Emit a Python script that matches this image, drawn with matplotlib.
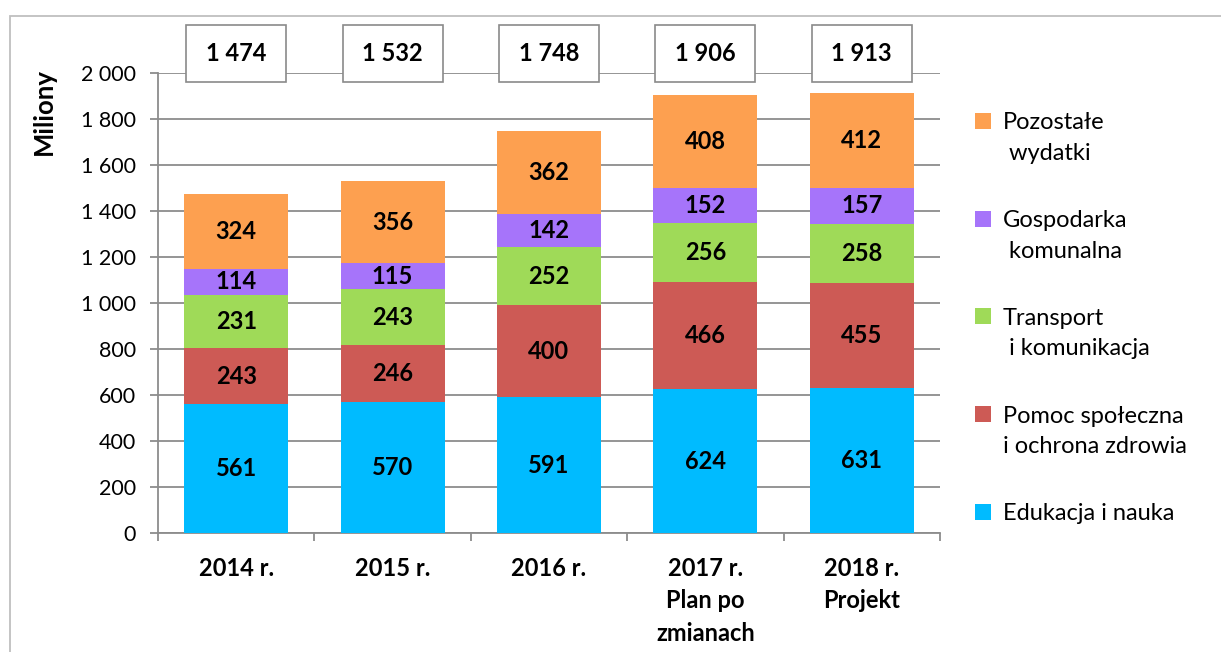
import matplotlib
matplotlib.use('Agg')
import matplotlib.pyplot as plt
from matplotlib.patches import Rectangle
import numpy as np

# ---- data ----
categories = ['2014 r.', '2015 r.', '2016 r.', '2017 r.\nPlan po\nzmianach', '2018 r.\nProjekt']
edukacja = [561, 570, 591, 624, 631]
pomoc = [243, 246, 400, 466, 455]
transport = [231, 243, 252, 256, 258]
gospodarka = [114, 115, 142, 152, 157]
pozostale = [324, 356, 362, 408, 412]
totals = [1474, 1532, 1748, 1906, 1913]

series = [edukacja, pomoc, transport, gospodarka, pozostale]
series_names = ['Edukacja i nauka', 'Pomoc społeczna\ni ochrona zdrowia',
                'Transport\n i komunikacja', 'Gospodarka\n komunalna', 'Pozostałe\n wydatki']
colors = ['#00BBFF', '#CD5A55', '#9FDA58', '#A674FA', '#FDA050']
yticks = [0, 200, 400, 600, 800, 1000, 1200, 1400, 1600, 1800, 2000]
ylabel = 'Miliony'

FONT = ['Lato', 'DejaVu Sans']
plt.rcParams['font.family'] = FONT


def fmt(v):
    return f"{v:,}".replace(',', ' ')


W, H = 1221, 652
fig = plt.figure(figsize=(W / 100, H / 100), dpi=100)
ax = fig.add_axes([158 / W, 1 - 533 / H, (940 - 158) / W, (533 - 73) / H])

# outer frame
fig.patches.append(Rectangle((10 / W, -0.1), 1.2, 1.1 - 16 / H, transform=fig.transFigure,
                             fill=False, edgecolor='#BFBFBF', lw=1.3, zorder=0))

x = np.arange(len(categories))
bottom = np.zeros(len(categories))
for vals, col in zip(series, colors):
    bars = ax.bar(x, vals, width=0.665, bottom=bottom, color=col, zorder=3)
    ax.bar_label(bars, labels=[fmt(v) for v in vals], label_type='center',
                 fontsize=17, fontweight='bold', color='black', zorder=4)
    bottom += np.array(vals)

# total boxes
box_y = 2085
for i, t in enumerate(totals):
    ax.add_patch(Rectangle((i - 0.32, box_y - 122), 0.64, 244, facecolor='white',
                           edgecolor='#8A8A8A', lw=1.2, clip_on=False, zorder=5))
    ax.text(i, box_y, fmt(t), ha='center', va='center', fontsize=17,
            fontweight='bold', zorder=6, clip_on=False)

ax.set_xlim(-0.5, len(categories) - 0.5)
ax.set_ylim(0, 2000)
ax.set_yticks(yticks)
ax.set_yticklabels([fmt(v) for v in yticks], fontsize=15.5)
ax.yaxis.grid(True, color='#8C8C8C', lw=1.3, zorder=0)
ax.set_axisbelow(True)
ax.tick_params(axis='y', length=8 * 0.72, width=1.3, color='#8C8C8C', pad=10)

ax.set_xticks(x)
ax.set_xticklabels(categories, fontsize=17, fontweight='bold',
                   linespacing=1.5, va='top')
ax.set_xticks(np.arange(-0.5, len(categories)), minor=True)
ax.tick_params(axis='x', which='major', length=0, pad=17)
ax.tick_params(axis='x', which='minor', length=8 * 0.72, width=1.3, color='#8C8C8C')

for s in ['top', 'right']:
    ax.spines[s].set_visible(False)
for s in ['left', 'bottom']:
    ax.spines[s].set_color('#8C8C8C')
    ax.spines[s].set_linewidth(1.3)

ax.set_ylabel(ylabel, fontsize=18.5, fontweight='bold')
ax.yaxis.set_label_coords(-0.130, 0.916)

# legend (manual, top to bottom)
px = 1 / 460.0
leg_y0 = 0.8957
leg_dy = 0.2125
line_dy = 30.5 * px
cap_half = 8.5 * px
for k, (name, col) in enumerate(zip(series_names[::-1], colors[::-1])):
    yy = leg_y0 - k * leg_dy
    ax.add_patch(Rectangle((1.0448, yy - 8 * px), 0.0198, 16 * px, transform=ax.transAxes,
                           facecolor=col, edgecolor='none', clip_on=False))
    for j, line in enumerate(name.split('\n')):
        ax.text(1.0806, yy - cap_half - j * line_dy, line, transform=ax.transAxes,
                fontsize=17, ha='left', va='baseline')

fig.savefig('out.png', dpi=100)
